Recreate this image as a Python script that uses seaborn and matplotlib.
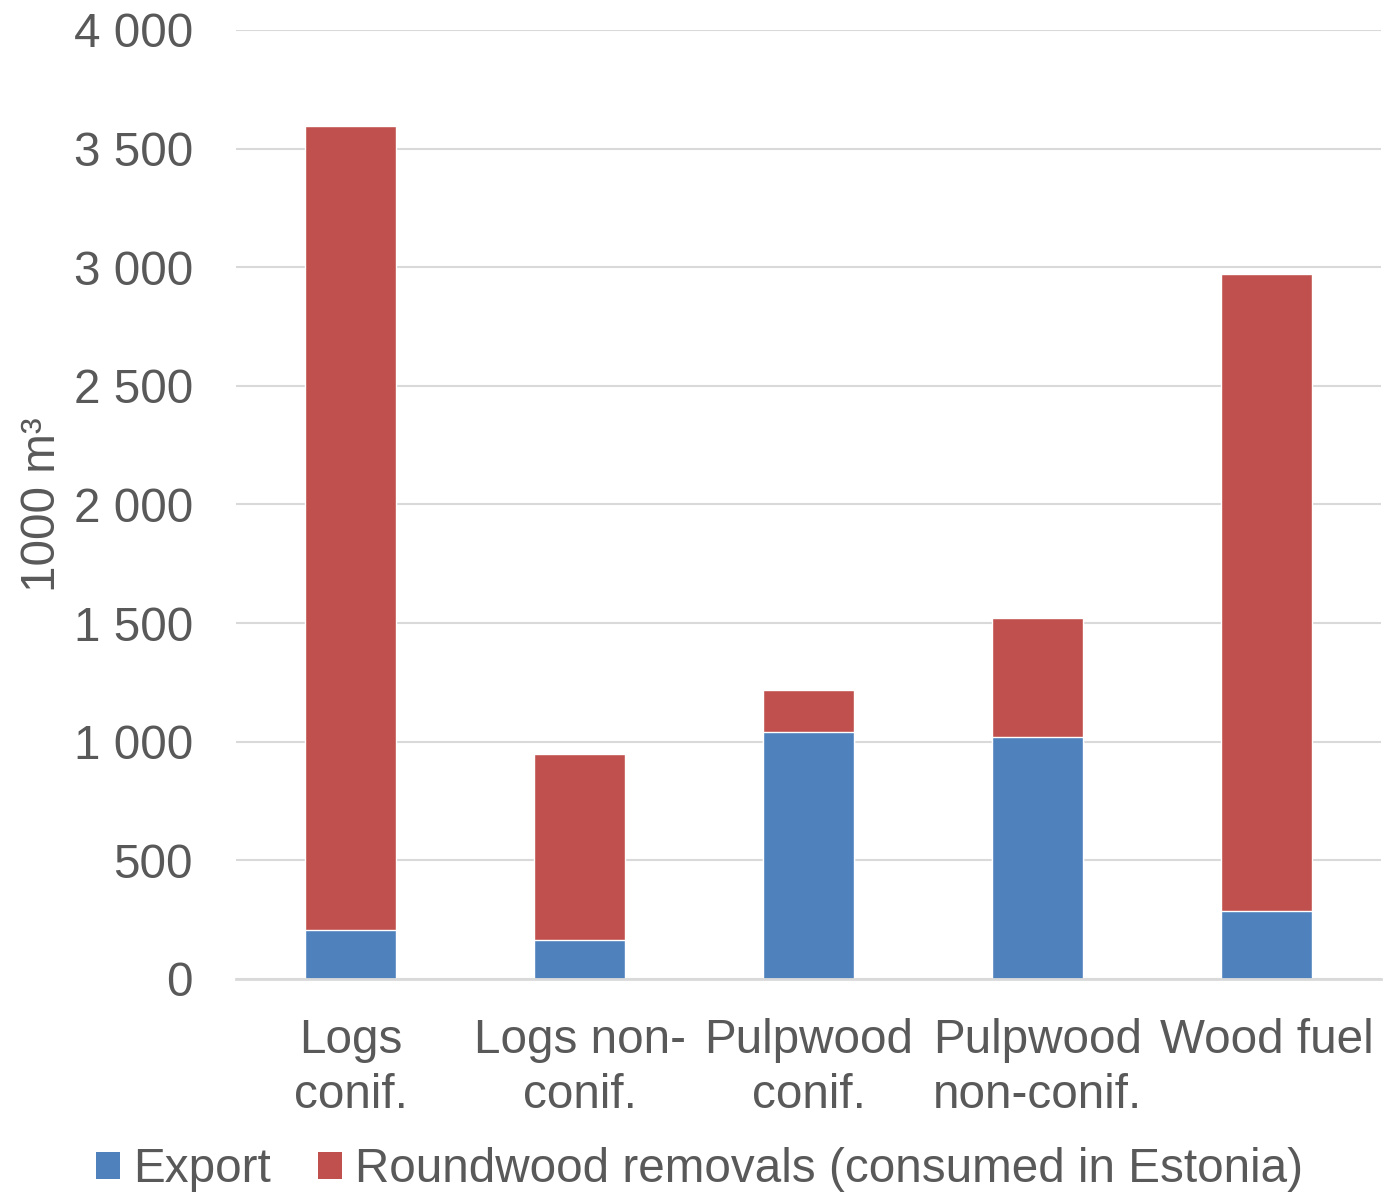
import matplotlib
matplotlib.use("Agg")
import matplotlib.pyplot as plt
from matplotlib.patches import Patch
import seaborn as sns
import pandas as pd

categories = ["Logs\nconif.", "Logs non-\nconif.", "Pulpwood\nconif.",
              "Pulpwood\nnon-conif.", "Wood fuel"]
export = [205, 163, 1040, 1020, 287]
roundwood = [3390, 784, 180, 501, 2684]
y_ticks = [0, 500, 1000, 1500, 2000, 2500, 3000, 3500, 4000]
y_tick_labels = ["0", "500", "1 000", "1 500", "2 000", "2 500", "3 000", "3 500", "4 000"]
series_names = ["Export", "Roundwood removals (consumed in Estonia)"]

BLUE = "#4F81BD"
RED = "#C0504D"
TEXT = "#595959"
GRID = "#D9D9D9"
FS = 34.3

sns.set_theme(style="white")
plt.rcParams["font.family"] = ["Liberation Sans", "DejaVu Sans"]

df = pd.DataFrame({
    "category": categories,
    "export": export,
    "total": [e + r for e, r in zip(export, roundwood)],
})

fig = plt.figure(figsize=(13.99, 11.93), dpi=100)
ax = fig.add_axes([236 / 1399, 1 - 979 / 1193, 1145 / 1399, 949 / 1193])

# stacked bars: total in red, export drawn over it in blue
sns.barplot(data=df, x="category", y="total", color=RED, width=0.4,
            saturation=1, ax=ax, zorder=3)
sns.barplot(data=df, x="category", y="export", color=BLUE, width=0.4,
            saturation=1, ax=ax, zorder=4)

ax.set_ylim(0, 4000)
ax.set_xlim(-0.5, 4.5)
ax.set_yticks(y_ticks)
ax.set_yticklabels(y_tick_labels)
ax.yaxis.grid(True, color=GRID, linewidth=1.5, zorder=0)
ax.set_axisbelow(True)
for s in ["top", "right", "left"]:
    ax.spines[s].set_visible(False)
ax.spines["bottom"].set_color(GRID)
ax.spines["bottom"].set_linewidth(2)
ax.spines["bottom"].set_zorder(5)

ax.tick_params(axis="y", length=0, pad=31, labelsize=FS, labelcolor=TEXT)
ax.tick_params(axis="x", length=0, pad=28, labelsize=FS, labelcolor=TEXT)
for lbl in ax.get_xticklabels():
    lbl.set_multialignment("center")
    lbl.set_linespacing(1.3)

ax.set_xlabel("")
ax.set_ylabel("1000 m³", fontsize=FS, color=TEXT)
ax.yaxis.set_label_coords(-0.149, 0.5)

handles = [Patch(facecolor=BLUE, edgecolor="none"),
           Patch(facecolor=RED, edgecolor="none")]
fig.legend(handles, series_names, loc="center", bbox_to_anchor=(0.5, 1 - 1170 / 1193),
           ncol=2, frameon=False, fontsize=FS, labelcolor=TEXT,
           handlelength=0.5, handleheight=0.5, handletextpad=0.27,
           columnspacing=1.0, borderpad=0, borderaxespad=0)

fig.savefig("out.png", dpi=100)
